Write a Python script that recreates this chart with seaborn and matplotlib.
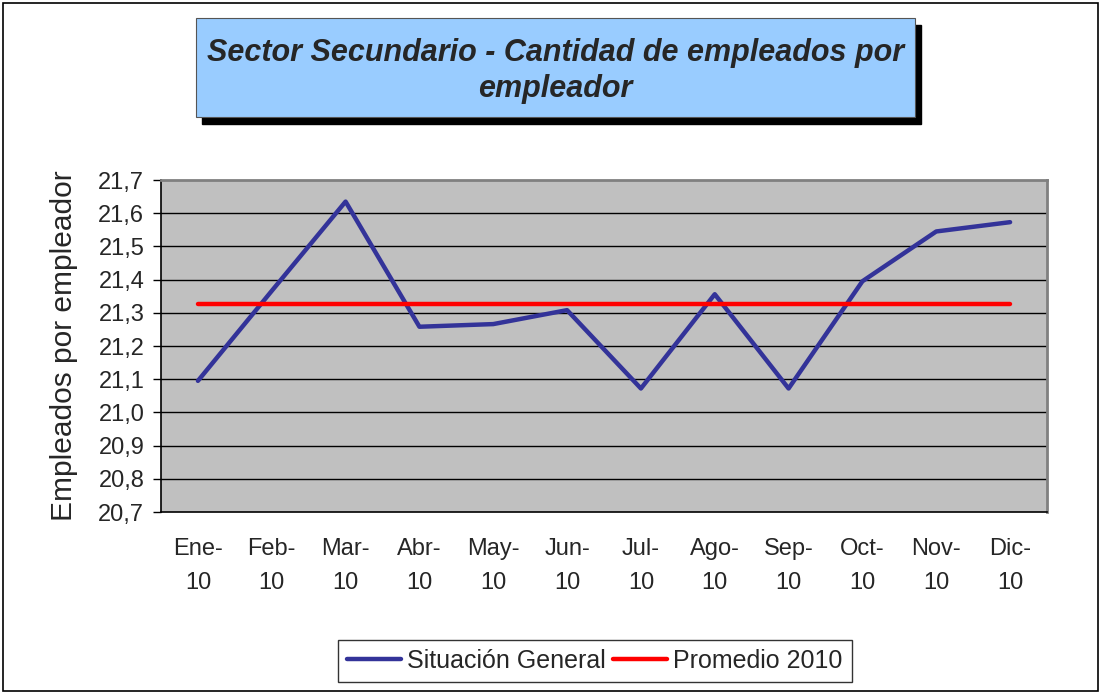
import matplotlib
matplotlib.use("Agg")
import matplotlib.pyplot as plt
from matplotlib.patches import Rectangle
import seaborn as sns
import pandas as pd
import numpy as np

meses = ["Ene-\n10", "Feb-\n10", "Mar-\n10", "Abr-\n10", "May-\n10", "Jun-\n10",
         "Jul-\n10", "Ago-\n10", "Sep-\n10", "Oct-\n10", "Nov-\n10", "Dic-\n10"]
situacion_general = [21.095, 21.366, 21.635, 21.258, 21.266, 21.308,
                     21.072, 21.356, 21.072, 21.395, 21.545, 21.573]
promedio_2010 = 21.328
y_ticks = [20.7, 20.8, 20.9, 21.0, 21.1, 21.2, 21.3, 21.4, 21.5, 21.6, 21.7]

sns.set_theme(style="white")
plt.rcParams["font.family"] = ["Liberation Sans", "DejaVu Sans"]

df = pd.DataFrame({
    "pos": np.arange(len(meses)),
    "Situación General": situacion_general,
    "Promedio 2010": [promedio_2010] * len(meses),
})

W, H = 1102, 693
fig = plt.figure(figsize=(W / 100, H / 100), dpi=100)
fig.patch.set_facecolor("white")

# figure border
fig.add_artist(Rectangle((3 / W, 2 / H), (W - 7) / W, (H - 5) / H, transform=fig.transFigure,
                         fill=False, edgecolor="black", linewidth=1.2))

ax = fig.add_axes([161 / W, 1 - 512 / H, (1047 - 161) / W, (512 - 180) / H])
ax.set_facecolor("#C0C0C0")

sns.lineplot(data=df, x="pos", y="Situación General", ax=ax, color="#333399",
             linewidth=3.2, label="Situación General", solid_capstyle="round")
sns.lineplot(data=df, x="pos", y="Promedio 2010", ax=ax, color="#FF0000",
             linewidth=3.2, label="Promedio 2010", solid_capstyle="round")

ax.set_xlim(-0.5, len(meses) - 0.5)
ax.set_ylim(20.7, 21.7)
ax.set_yticks(y_ticks)
ax.set_yticklabels([f"{v:.1f}".replace(".", ",") for v in y_ticks], fontsize=17)
ax.set_xticks(np.arange(len(meses)))
ax.set_xticklabels(meses, fontsize=17, linespacing=1.7)
ax.set_xticks(np.arange(-0.5, len(meses)), minor=True)
ax.tick_params(axis="x", which="major", length=0, pad=19)
ax.tick_params(axis="x", which="minor", length=7, width=1, color="black", direction="out")
ax.tick_params(axis="y", which="major", length=6, width=1, color="black", direction="out",
               left=True, pad=6)
for v in y_ticks[1:-1]:
    ax.axhline(v, color="black", linewidth=1.0, zorder=0.5)
ax.set_xlabel("")
ax.set_ylabel("Empleados por empleador", fontsize=21.5, labelpad=15)

for s in ["left", "bottom"]:
    ax.spines[s].set_color("black")
    ax.spines[s].set_linewidth(1.2)
for s in ["top", "right"]:
    ax.spines[s].set_color("#808080")
    ax.spines[s].set_linewidth(2)

ax.get_legend().remove()
handles, labels = ax.get_legend_handles_labels()
leg = fig.legend(handles, labels, loc="center", bbox_to_anchor=(595 / W, 1 - 661 / H),
                 ncol=2, fontsize=18, frameon=True, fancybox=False, edgecolor="black",
                 handlelength=2.15, columnspacing=0.3, handletextpad=0.25,
                 borderpad=0.35, borderaxespad=0)
leg.get_frame().set_linewidth(1.0)

# title box with shadow
bx0, bx1, by0, by1 = 196, 915, 18, 117
fig.add_artist(Rectangle(((bx0 + 6) / W, 1 - (by1 + 7) / H), (bx1 - bx0) / W, (by1 - by0) / H,
                         transform=fig.transFigure, facecolor="black", edgecolor="black", zorder=5))
fig.add_artist(Rectangle((bx0 / W, 1 - by1 / H), (bx1 - bx0) / W, (by1 - by0) / H,
                         transform=fig.transFigure, facecolor="#99CCFF", edgecolor="#555555",
                         linewidth=0.8, zorder=6))
fig.text((bx0 + bx1) / 2 / W, 1 - 71 / H,
         "Sector Secundario - Cantidad de empleados por\nempleador",
         ha="center", va="center", fontsize=22, fontweight="bold", fontstyle="italic",
         linespacing=1.3, zorder=7)

fig.savefig("out.png", dpi=100)
